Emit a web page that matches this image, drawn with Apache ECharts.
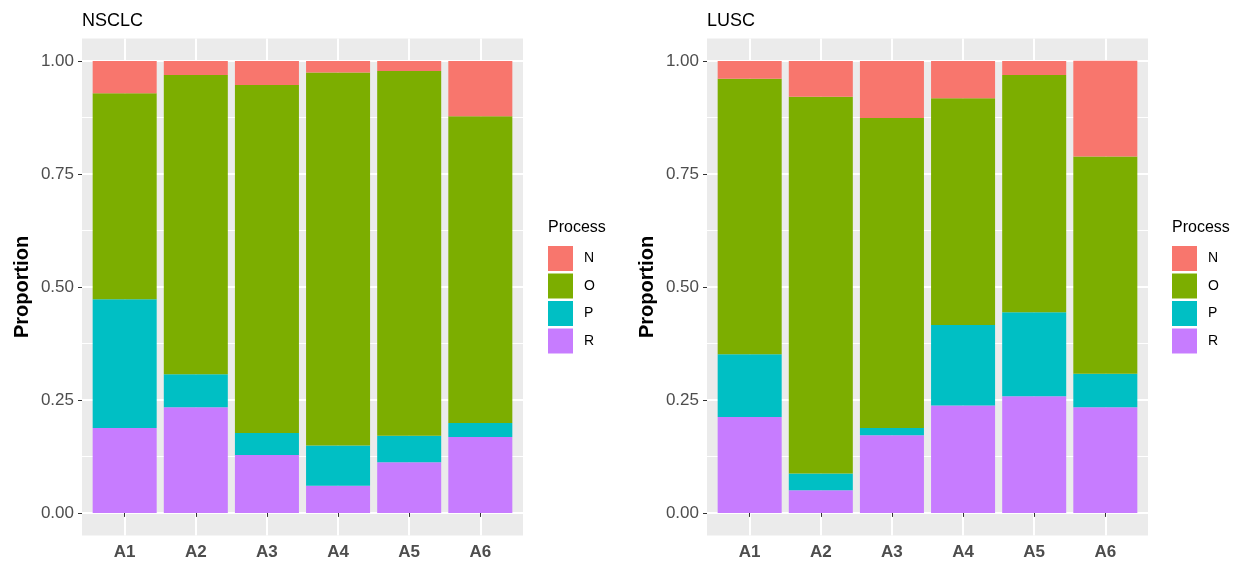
<!DOCTYPE html>
<html>
<head>
<meta charset="utf-8">
<script src="https://cdn.jsdelivr.net/npm/echarts@6/dist/echarts.min.js"></script>
<style>
  html, body { margin: 0; padding: 0; background: #ffffff; }
  #chart { width: 1244px; height: 563px; }
</style>
</head>
<body>
<div id="chart"></div>
<script>
// ---- Data ----
const categories = ['A1', 'A2', 'A3', 'A4', 'A5', 'A6'];
const processes = ['N', 'O', 'P', 'R'];
const panelTitles = ['NSCLC', 'LUSC'];

// NSCLC segment proportions (stack from bottom: R, P, O, N)
const nsclcR = [0.188, 0.234, 0.128, 0.060, 0.112, 0.168];
const nsclcP = [0.285, 0.073, 0.049, 0.089, 0.059, 0.031];
const nsclcO = [0.456, 0.662, 0.770, 0.826, 0.807, 0.679];
const nsclcN = [0.071, 0.031, 0.053, 0.025, 0.022, 0.122];

// LUSC segment proportions
const luscR = [0.212, 0.050, 0.172, 0.238, 0.258, 0.234];
const luscP = [0.139, 0.037, 0.016, 0.178, 0.186, 0.074];
const luscO = [0.610, 0.834, 0.686, 0.502, 0.525, 0.481];
const luscN = [0.039, 0.079, 0.126, 0.082, 0.031, 0.212];

const yTicks = [0, 0.25, 0.5, 0.75, 1];
const yMinorTicks = [0.125, 0.375, 0.625, 0.875];

// ---- Style / layout ----
const FONT = 'Liberation Sans, Arial, sans-serif';
const colors = { N: '#F8766D', O: '#7CAE00', P: '#00BFC4', R: '#C77CFF' };
const panels = [
  { title: panelTitles[0], left: 82, legendLeft: 548, values: { R: nsclcR, P: nsclcP, O: nsclcO, N: nsclcN } },
  { title: panelTitles[1], left: 707, legendLeft: 1172, values: { R: luscR, P: luscP, O: luscO, N: luscN } }
];
const panelTop = 38.5, panelWidth = 441, panelHeight = 497;
const xMin = 0.4, xMax = categories.length + 0.6;
const unit = panelWidth / (xMax - xMin);
const catPositions = categories.map((c, i) => i + 1);
const yMin = -0.05, yMax = 1.05;

const option = {
  animation: false,
  backgroundColor: '#ffffff',
  title: [], legend: [], grid: [], xAxis: [], yAxis: [], series: []
};

panels.forEach((p, pi) => {
  const gBg = pi * 2, gBar = pi * 2 + 1;
  option.title.push({
    text: p.title, left: p.left, top: 12, padding: 0,
    textStyle: { fontFamily: FONT, fontSize: 18, fontWeight: 'normal', color: '#000000' }
  });
  option.title.push({
    text: 'Process', left: p.legendLeft, top: 220, padding: 0,
    textStyle: { fontFamily: FONT, fontSize: 16, fontWeight: 'normal', color: '#000000' }
  });
  option.legend.push({
    data: processes, orient: 'vertical', left: p.legendLeft, top: 246, padding: 0,
    itemWidth: 25, itemHeight: 25, itemGap: 2.5, icon: 'rect',
    selectedMode: false,
    textStyle: { fontFamily: FONT, fontSize: 14, color: '#000000', padding: [0, 0, 0, 6] }
  });
  // background panel grid (gridlines, ticks, labels)
  option.grid.push({
    left: p.left, top: panelTop, width: panelWidth, height: panelHeight,
    show: true, backgroundColor: '#EBEBEB', borderWidth: 0
  });
  // bar grid: category bands inset by 0.1 unit on each side
  option.grid.push({
    left: p.left + (1 - xMin - 0.5) * unit, top: panelTop,
    width: categories.length * unit, height: panelHeight,
    show: false
  });
  // x axes
  option.xAxis.push({
    gridIndex: gBg, type: 'value', min: xMin, max: xMax,
    axisLine: { show: false },
    axisTick: { show: true, customValues: catPositions, length: 4, lineStyle: { color: '#333333', width: 1 } },
    axisLabel: {
      customValues: catPositions, margin: 8,
      formatter: v => categories[Math.round(v) - 1],
      fontFamily: FONT, fontSize: 17, fontWeight: 'bold', color: '#4D4D4D'
    },
    splitLine: { show: true, lineStyle: { color: '#ffffff', width: 2 } }
  });
  option.xAxis.push({
    gridIndex: gBar, type: 'category', data: categories,
    axisLine: { show: false }, axisTick: { show: false }, axisLabel: { show: false },
    splitLine: { show: false }
  });
  // y axes: major (labels), minor gridlines, bar axis
  option.yAxis.push({
    gridIndex: gBg, type: 'value', min: yMin, max: yMax,
    name: 'Proportion', nameLocation: 'middle', nameGap: 50, nameRotate: 90,
    nameTextStyle: { fontFamily: FONT, fontSize: 20, fontWeight: 'bold', color: '#000000' },
    axisLine: { show: false },
    axisTick: { show: true, customValues: yTicks, length: 4, lineStyle: { color: '#333333', width: 1 } },
    axisLabel: {
      customValues: yTicks, margin: 8,
      formatter: v => v.toFixed(2),
      fontFamily: FONT, fontSize: 17, color: '#4D4D4D'
    },
    splitLine: { show: true, lineStyle: { color: '#ffffff', width: 2 } }
  });
  option.yAxis.push({
    gridIndex: gBg, type: 'value', min: yMin, max: yMax, position: 'left',
    axisLine: { show: false },
    axisTick: { show: true, customValues: yMinorTicks, length: 0, lineStyle: { color: 'rgba(0,0,0,0)' } },
    axisLabel: { show: true, customValues: yMinorTicks, formatter: () => '' },
    splitLine: { show: true, lineStyle: { color: '#ffffff', width: 1 } }
  });
  option.yAxis.push({
    gridIndex: gBar, type: 'value', min: yMin, max: yMax,
    axisLine: { show: false }, axisTick: { show: false }, axisLabel: { show: false },
    splitLine: { show: false }
  });
  ['R', 'P', 'O', 'N'].forEach(key => {
    option.series.push({
      name: key, type: 'bar', stack: 'panel' + pi,
      xAxisIndex: gBar, yAxisIndex: pi * 3 + 2,
      barWidth: '90%',
      itemStyle: { color: colors[key] },
      emphasis: { disabled: true },
      data: p.values[key]
    });
  });
});

const chart = echarts.init(document.getElementById('chart'), null, { renderer: 'canvas' });
chart.setOption(option);
</script>
</body>
</html>
